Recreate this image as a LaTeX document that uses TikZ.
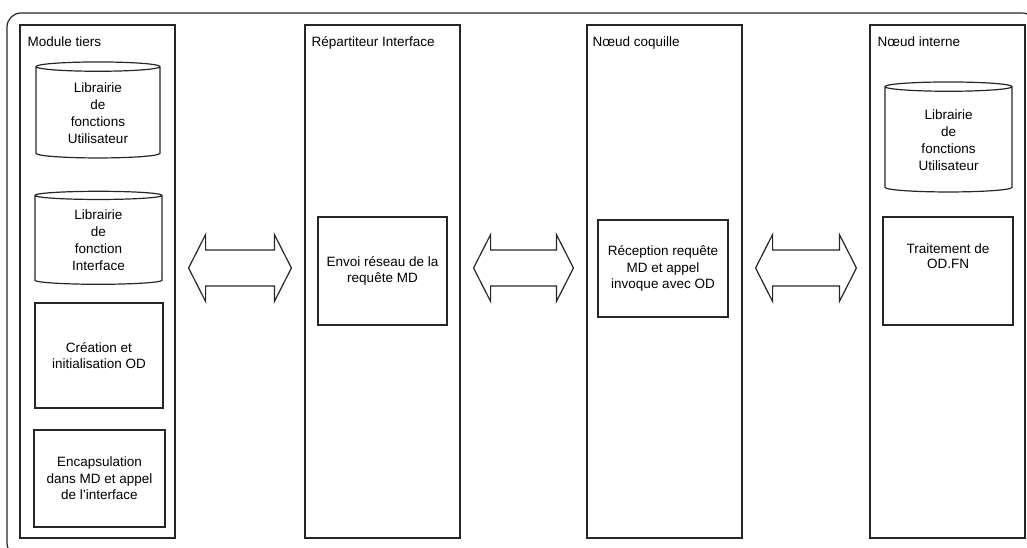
\documentclass[tikz,border=0pt]{standalone}
\usepackage{fontspec}
\setmainfont{Liberation Sans}
\usetikzlibrary{positioning, shapes.geometric, calc}

\begin{document}
\begin{tikzpicture}[x=1pt, y=-1pt,
  col/.style={draw=black!85, line width=1.2pt, minimum width=155pt, minimum height=513pt},
  colname/.style={anchor=base west, inner sep=0pt, font=\fontsize{13.5}{16}\selectfont},
  box/.style={draw=black!85, line width=1.2pt, align=center, inner sep=2pt,
              font=\fontsize{13.5}{16.5}\selectfont},
  lib/.style={cylinder, shape border rotate=90, aspect=0.15, draw=black!85,
              line width=1.2pt, align=center, inner sep=1pt,
              font=\fontsize{13.5}{17}\selectfont},
  blk/.style={draw=black!85, line width=1.2pt, line join=miter}
]
\useasboundingbox (0,0) rectangle (1027,548);
\clip (0,0) rectangle (1027,548);

% cadre general
\draw[black!85, line width=1.2pt, rounded corners=14pt] (7,13) rectangle (1036,557);

% colonnes
\node[col] (mod) at (97.5,281.5) {};
\node[col] (rep) at (382.5,281.5) {};
\node[col] (coq) at (664.5,281.5) {};
\node[col] (int) at (947.5,281.5) {};

\node[colname] (modname) at ([shift={(8,22)}]mod.north west) {Module tiers};
\node[colname] (repname) at ([shift={(7,22)}]rep.north west) {Répartiteur Interface};
\node[colname] (coqname) at ([shift={(6,22)}]coq.north west) {Nœud coquille};
\node[colname] (intname) at ([shift={(8,22)}]int.north west) {Nœud interne};

% module tiers
\node[lib, minimum width=124pt, minimum height=96pt] (libu) at (98,113)
  {Librairie\\de\\fonctions\\Utilisateur};
\node[lib, minimum width=127pt, minimum height=93pt] (libi) at (98.5,240.5)
  {Librairie\\de\\fonction\\Interface};
\node[box, minimum width=128pt, minimum height=105pt] (ini) at (99,355.5)
  {Création et\\initialisation OD};
\node[box, minimum width=131pt, minimum height=97pt] (enc) at (99.5,478.5)
  {Encapsulation\\dans MD et appel\\de l'interface};

% repartiteur et noeud coquille
\node[box, minimum width=129pt, minimum height=108pt] (env) at (382.5,271)
  {Envoi réseau de la\\requête MD};
\node[box, minimum width=130pt, minimum height=97pt] (rec) at (663,268.5)
  {Réception requête\\MD et appel\\invoque avec OD};

% noeud interne
\node[lib, minimum width=127pt, minimum height=110pt] (libn) at (948.5,140)
  {Librairie\\de\\fonctions\\Utilisateur};
\node[box, minimum width=130pt, minimum height=108pt] (trt) at (948,271) {};
\node[align=center, font=\fontsize{13.5}{15}\selectfont] (trttxt)
  at ([yshift=15pt]trt.center) {Traitement de\\OD.FN};

% fleches doubles entre colonnes
\foreach \a/\b in {mod/rep, rep/coq, coq/int}{
  \coordinate (l) at ($(\a.east)+(13,-13.5)$);
  \coordinate (r) at ($(\b.west)+(-13,-13.5)$);
  \draw[blk] (l) -- ++(17,-33.5) -- ++(0,15.5) -- ($(r)+(-17,-18)$) -- ++(0,-15.5)
    -- (r) -- ++(-17,33.5) -- ++(0,-15.5) -- ($(l)+(17,18)$) -- ++(0,15.5) -- cycle;
}
\end{tikzpicture}
\end{document}
